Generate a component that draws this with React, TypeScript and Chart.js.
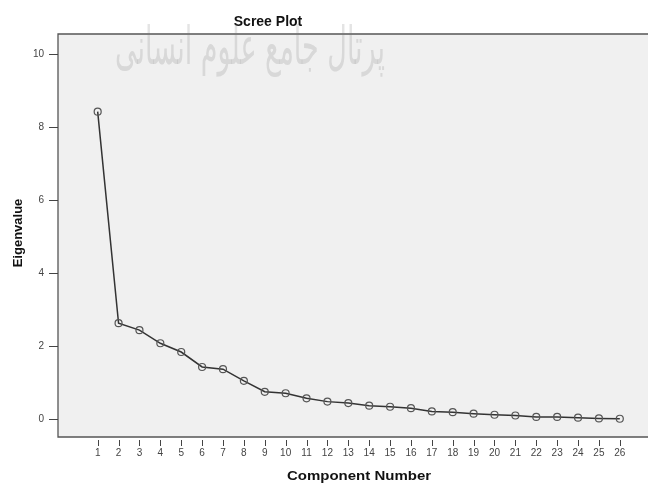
import React, { useEffect, useRef } from "react";
import { Chart, registerables } from "chart.js";

Chart.register(...registerables);

const components: number[] = [1, 2, 3, 4, 5, 6, 7, 8, 9, 10, 11, 12, 13, 14, 15, 16, 17, 18, 19, 20, 21, 22, 23, 24, 25, 26];
const eigenvalues: number[] = [8.42, 2.62, 2.43, 2.07, 1.83, 1.42, 1.36, 1.04, 0.74, 0.7, 0.56, 0.47, 0.43, 0.36, 0.33, 0.29, 0.2, 0.18, 0.14, 0.11, 0.09, 0.05, 0.05, 0.03, 0.01, 0.0];
const yTicks: number[] = [0, 2, 4, 6, 8, 10];
const titleText = "Scree Plot";
const xTitle = "Component Number";
const yTitle = "Eigenvalue";
const watermark = "پرتال جامع علوم انسانی";

const FONT = "'Liberation Sans', Arial, sans-serif";

const decor = {
  id: "decor",
  beforeDatasetsDraw(chart: any) {
    const { ctx, chartArea } = chart;
    const { left, top, right, bottom } = chartArea;
    ctx.save();
    ctx.fillStyle = "#f0f0f0";
    ctx.fillRect(left, top, right - left + 4, bottom - top);
    ctx.restore();
  },
  afterDraw(chart: any) {
    const { ctx, chartArea, scales } = chart;
    const { left, top, right, bottom } = chartArea;
    ctx.save();
    // border
    ctx.strokeStyle = "#555";
    ctx.lineWidth = 1.3;
    ctx.beginPath();
    ctx.moveTo(right + 4, top);
    ctx.lineTo(left, top);
    ctx.lineTo(left, bottom);
    ctx.lineTo(right + 4, bottom);
    ctx.stroke();
    // ticks
    ctx.strokeStyle = "#444";
    ctx.lineWidth = 1;
    for (const v of yTicks) {
      const y = Math.round(scales.y.getPixelForValue(v)) + 0.5;
      ctx.beginPath();
      ctx.moveTo(left - 9, y);
      ctx.lineTo(left, y);
      ctx.stroke();
    }
    for (const c of components) {
      const x = Math.round(scales.x.getPixelForValue(c)) + 0.5;
      ctx.beginPath();
      ctx.moveTo(x, bottom + 3);
      ctx.lineTo(x, bottom + 9);
      ctx.stroke();
    }
    // titles
    ctx.fillStyle = "#111";
    ctx.textAlign = "center";
    ctx.textBaseline = "middle";
    ctx.font = `bold 14px ${FONT}`;
    ctx.fillText(titleText, 268, 22);
    ctx.save();
    ctx.translate(359, 477);
    ctx.scale(1.2, 1);
    ctx.font = `bold 12.5px ${FONT}`;
    ctx.fillText(xTitle, 0, 0);
    ctx.restore();
    ctx.save();
    ctx.translate(18, 233);
    ctx.rotate(-Math.PI / 2);
    ctx.font = `bold 13px ${FONT}`;
    ctx.fillText(yTitle, 0, 0);
    ctx.restore();
    // watermark
    ctx.globalAlpha = 0.2;
    ctx.fillStyle = "#777";
    ctx.font = `52px 'DejaVu Sans', sans-serif`;
    ctx.textAlign = "center";
    ctx.direction = "rtl";
    ctx.fillText(watermark, 250, 50, 270);
    ctx.restore();
  },
};

export default function App() {
  const ref = useRef<HTMLCanvasElement | null>(null);
  useEffect(() => {
    if (!ref.current) return;
    const chart = new Chart(ref.current, {
      type: "line",
      data: {
        labels: components.map(String),
        datasets: [
          {
            data: components.map((c, i) => ({ x: c, y: eigenvalues[i] })),
            borderColor: "#333",
            borderWidth: 1.5,
            pointRadius: 3.5,
            pointBorderColor: "#555",
            pointBorderWidth: 1.2,
            pointBackgroundColor: "rgba(0,0,0,0)",
            tension: 0,
          },
        ],
      },
      options: {
        responsive: false,
        animation: false,
        layout: { autoPadding: false, padding: { top: 34, left: 0, right: 0, bottom: 0 } },
        plugins: { legend: { display: false }, tooltip: { enabled: false }, title: { display: false } },
        scales: {
          x: {
            type: "linear",
            min: -0.9,
            max: 27.35,
            grid: { display: false, drawTicks: false },
            border: { display: false },
            afterBuildTicks: (s: any) => {
              s.ticks = components.map((v) => ({ value: v }));
            },
            afterFit: (s: any) => {
              s.height = 50;
              s.paddingLeft = 0;
              s.paddingRight = 0;
            },
            ticks: {
              autoSkip: false,
              maxRotation: 0,
              padding: 10,
              color: "#444",
              font: { family: FONT, size: 10 },
              callback: (v: any) => String(v),
            },
          },
          y: {
            type: "linear",
            min: -0.5,
            max: 10.55,
            grid: { display: false, drawTicks: false },
            border: { display: false },
            afterBuildTicks: (s: any) => {
              s.ticks = yTicks.map((v) => ({ value: v }));
            },
            afterFit: (s: any) => {
              s.width = 58;
              s.paddingTop = 0;
              s.paddingBottom = 0;
            },
            ticks: {
              padding: 14,
              color: "#444",
              font: { family: FONT, size: 10 },
              callback: (v: any) => String(v),
            },
          },
        },
      },
      plugins: [decor],
    });
    return () => chart.destroy();
  }, []);
  return (
    <div style={{ position: "fixed", left: 0, top: 0, width: 648, height: 487, background: "#fff" }}>
      <canvas ref={ref} width={648} height={487} style={{ display: "block" }} />
    </div>
  );
}
